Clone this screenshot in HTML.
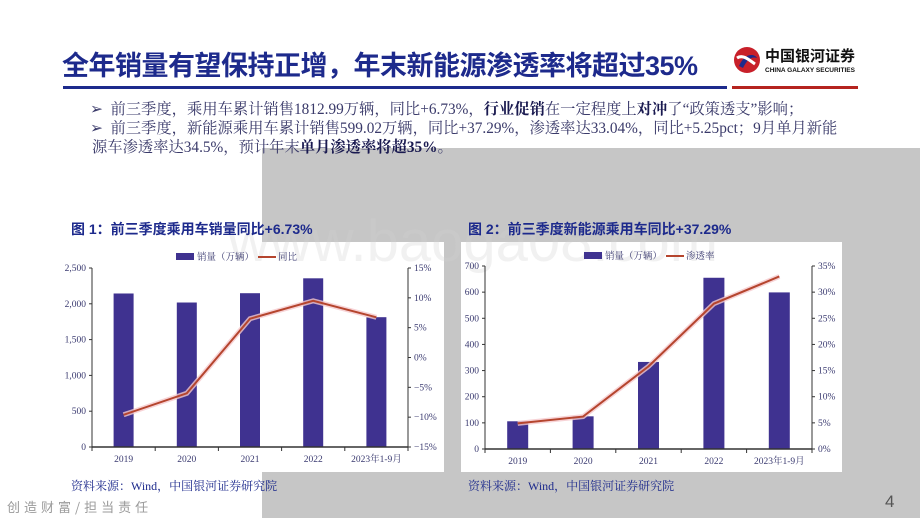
<!DOCTYPE html>
<html><head><meta charset="utf-8"><style>
body{margin:0;width:920px;height:518px;position:relative;overflow:hidden;background:#fff;font-family:"Liberation Serif","Noto Serif CJK SC",serif;}
.abs{position:absolute;}
.title{left:62px;top:44px;font-family:"Liberation Sans","Noto Sans CJK SC",sans-serif;font-weight:bold;font-size:27px;color:#1d2a8c;letter-spacing:-0.5px;white-space:nowrap;}
.bul{font-size:15.3px;color:#3a3a6a;white-space:nowrap;}
.bul b{color:#1a1a50;}
.figt{font-family:"Liberation Sans","Noto Sans CJK SC",sans-serif;font-weight:bold;font-size:14px;color:#1d2a8c;white-space:nowrap;}
.src{font-size:12px;color:#1d2a8c;white-space:nowrap;}
</style></head><body>
<div class="abs" style="left:262px;top:148px;width:658px;height:370px;background:#c6c6c6"></div>
<div class="abs" style="left:0;top:242px;width:444px;height:230px;background:#fff"></div>
<div class="abs" style="left:461px;top:242px;width:381px;height:230px;background:#fff"></div>
<div class="abs" style="left:228px;top:208px;font-family:'Liberation Sans',sans-serif;font-size:58px;color:rgba(210,210,210,0.3);white-space:nowrap">www.baoga08.com</div>

<div class="abs title">全年销量有望保持正增，年末新能源渗透率将超过35%</div>
<div class="abs" style="left:63px;top:86px;width:664px;height:3px;background:#1d2a8c"></div>
<div class="abs" style="left:732px;top:86px;width:126px;height:3px;background:#b5231f"></div>
<div class="abs" style="left:733px;top:44px;">
<svg width="130" height="32"><circle cx="14" cy="16" r="13" fill="#c8202a"/><path d="M6 22 C12 8 22 10 24 14 C18 12 14 16 10 24Z" fill="#1d2a8c"/><path d="M4 14 C10 10 16 16 22 20" stroke="#fff" stroke-width="3" fill="none"/>
<text x="32" y="17" font-family="Noto Sans CJK SC,sans-serif" font-weight="bold" font-size="15" fill="#111">中国银河证券</text>
<text x="32" y="28" font-family="Liberation Sans,sans-serif" font-weight="bold" font-size="6.5" fill="#111">CHINA GALAXY SECURITIES</text></svg></div>

<div class="abs bul" style="left:90px;top:97px">➢&nbsp; 前三季度，乘用车累计销售1812.99万辆，同比+6.73%，<b>行业促销</b>在一定程度上<b>对冲</b>了“政策透支”影响；</div>
<div class="abs bul" style="left:90px;top:116px">➢&nbsp; 前三季度，新能源乘用车累计销售599.02万辆，同比+37.29%，渗透率达33.04%，同比+5.25pct；9月单月新能</div>
<div class="abs bul" style="left:92px;top:135px">源车渗透率达34.5%，预计年末<b>单月渗透率将超35%</b>。</div>

<div class="abs figt" style="left:71px;top:219px">图 1：前三季度乘用车销量同比+6.73%</div>
<div class="abs figt" style="left:468px;top:219px">图 2：前三季度新能源乘用车同比+37.29%</div>
<div class="abs src" style="left:71px;top:477px">资料来源：Wind，中国银河证券研究院</div>
<div class="abs src" style="left:468px;top:477px">资料来源：Wind，中国银河证券研究院</div>
<div class="abs" style="left:7px;top:497px;font-size:13px;color:#9a9a9a;letter-spacing:4px;font-family:'Noto Sans CJK SC',sans-serif">创造财富/担当责任</div>
<div class="abs" style="left:885px;top:492px;font-size:17px;color:#555;font-family:'Liberation Sans',sans-serif">4</div>

<svg class="abs" id="c1" style="left:0;top:0" width="920" height="518"></svg>

<script>
const cats1=["2019","2020","2021","2022","2023年1-9月"];
const sales1=[2144,2018,2148,2356,1813];
const yoy1=[-9.6,-6.0,6.5,9.5,6.73];
const leftTicks1=[0,500,1000,1500,2000,2500];
const rightTicks1=[-15,-10,-5,0,5,10,15];

const cats2=["2019","2020","2021","2022","2023年1-9月"];
const sales2=[106,125,333,655,599];
const pen2=[4.9,6.2,15.8,27.8,33.0];
const leftTicks2=[0,100,200,300,400,500,600,700];
const rightTicks2=[0,5,10,15,20,25,30,35];

const svg=document.getElementById('c1');
const NS='http://www.w3.org/2000/svg';
function mk(tag,attrs,parent){const e=document.createElementNS(NS,tag);for(const k in attrs)e.setAttribute(k,attrs[k]);(parent||svg).appendChild(e);return e;}
function fmt(v){return v.toLocaleString('en-US');}

function chart(cfg){
  const {x0,x1,y0,y1,lmin,lmax,rmin,rmax,cats,bars,line,lt,rt,legY,legX,lineName,pfx,barW,labY}=cfg;
  const g=mk('g',{});
  
  
  const bw=(x1-x0)/cats.length;
  const yl=v=>y0-(v-lmin)/(lmax-lmin)*(y0-y1);
  const yr=v=>y0-(v-rmin)/(rmax-rmin)*(y0-y1);
  const xc=i=>x0+bw*(i+0.5);
  const tf='font-family:"Liberation Serif",serif;font-size:9.5px;fill:#3a3a70';
  let a=mk('line',{x1:x0,y1:y1,x2:x0,y2:y0,stroke:'#333','stroke-width':1},g);
  
  
  a=mk('line',{x1:x1,y1:y1,x2:x1,y2:y0,stroke:'#333','stroke-width':1},g);
  
  
  lt.forEach(v=>{const y=yl(v);mk('line',{x1:x0-3,y1:y,x2:x0,y2:y,stroke:'#333'},g);
    const t=mk('text',{x:x0-6,y:y+3,'text-anchor':'end',style:tf},g);t.textContent=fmt(v);
    
    });
  rt.forEach(v=>{const y=yr(v);mk('line',{x1:x1,y1:y,x2:x1+3,y2:y,stroke:'#333'},g);
    const t=mk('text',{x:x1+6,y:y+3,style:tf},g);t.textContent=(v<0?'−':'')+Math.abs(v)+'%';
    
    });
  bars.forEach((v,i)=>{const r=mk('rect',{x:xc(i)-barW/2,y:yl(v),width:barW,height:y0-yl(v),fill:'#3f3290'},g);
    
    });
  mk('line',{x1:x0,y1:y0,x2:x1,y2:y0,stroke:'#333','stroke-width':1.5},g);
  for(let i=0;i<=cats.length;i++){mk('line',{x1:x0+bw*i,y1:y0,x2:x0+bw*i,y2:y0+4,stroke:'#333'},g);}
  cats.forEach((c,i)=>{const t=mk('text',{x:xc(i),y:labY,'text-anchor':'middle',style:tf+';font-family:"Liberation Serif","Noto Serif CJK SC",serif'},g);t.textContent=c;
    
    });
  const pts=line.map((v,i)=>xc(i)+','+yr(v)).join(' ');
  mk('polyline',{points:pts,fill:'none',stroke:'#f5c8cc','stroke-width':5,opacity:0.8},g);
  const pl=mk('polyline',{points:pts,fill:'none',stroke:'#b5452e','stroke-width':2},g);
  
  
  const lg=mk('g',{},g);
  
  
  mk('rect',{x:legX,y:legY-4,width:18,height:7,fill:'#3f3290'},lg);
  let t=mk('text',{x:legX+21,y:legY+3,style:tf+';font-family:"Noto Serif CJK SC",serif'},lg);t.textContent='销量（万辆）';
  mk('line',{x1:legX+82,y1:legY,x2:legX+100,y2:legY,stroke:'#b5452e','stroke-width':2},lg);
  t=mk('text',{x:legX+102,y:legY+3,style:tf+';font-family:"Noto Serif CJK SC",serif'},lg);t.textContent=lineName;
}
chart({x0:92,x1:408,y0:447,y1:268,lmin:0,lmax:2500,rmin:-15,rmax:15,cats:cats1,bars:sales1,line:yoy1,lt:leftTicks1,rt:rightTicks1,legY:257,legX:176,lineName:'同比',pfx:'chart1',barW:20,labY:462});
chart({x0:485,x1:812,y0:449,y1:266,lmin:0,lmax:700,rmin:0,rmax:35,cats:cats2,bars:sales2,line:pen2,lt:leftTicks2,rt:rightTicks2,legY:256,legX:584,lineName:'渗透率',pfx:'chart2',barW:21,labY:464});
</script>
</body></html>
